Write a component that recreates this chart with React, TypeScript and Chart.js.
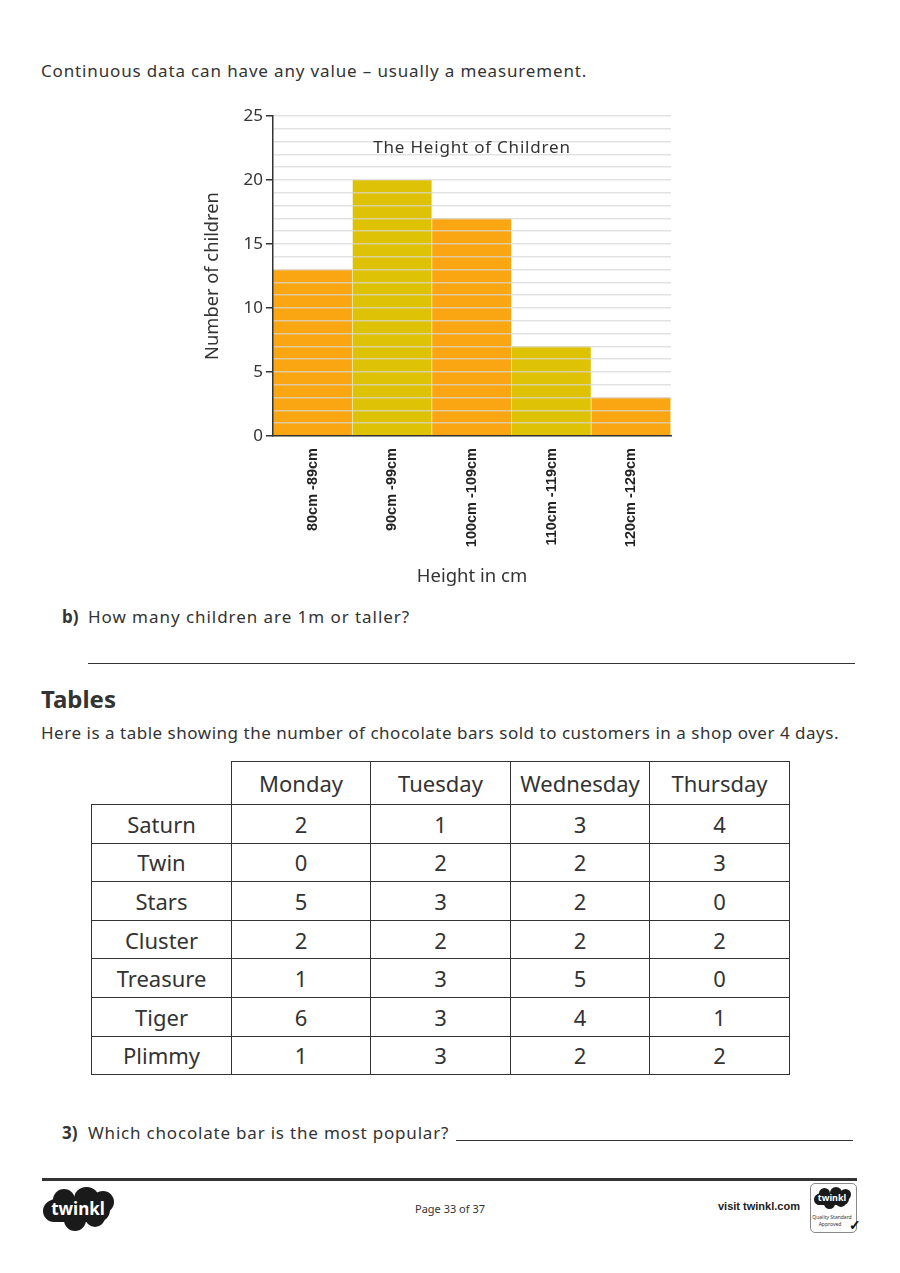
import React, { useEffect, useRef } from "react";
import { Chart, registerables } from "chart.js";

Chart.register(...registerables);

const categories = ["80cm -89cm", "90cm -99cm", "100cm -109cm", "110cm -119cm", "120cm -129cm"];
const counts = [13, 20, 17, 7, 3];
const barColors = ["#F9A612", "#DEC205", "#F9A612", "#DEC205", "#F9A612"];
const yMax = 25;
const chartTitle = "The Height of Children";
const xTitle = "Height in cm";
const yTitle = "Number of children";

const days = ["Monday", "Tuesday", "Wednesday", "Thursday"];
const bars = ["Saturn", "Twin", "Stars", "Cluster", "Treasure", "Tiger", "Plimmy"];
const saturn = [2, 1, 3, 4];
const twin = [0, 2, 2, 3];
const stars = [5, 3, 2, 0];
const cluster = [2, 2, 2, 2];
const treasure = [1, 3, 5, 0];
const tiger = [6, 3, 4, 1];
const plimmy = [1, 3, 2, 2];
const sales = [saturn, twin, stars, cluster, treasure, tiger, plimmy];

const FONT = "'Noto Sans', 'Open Sans', sans-serif";

function T(props: { x: number; y: number; size?: number; bold?: boolean; color?: string; center?: boolean; family?: string; ls?: number; children: React.ReactNode }) {
  const size = props.size ?? 17;
  const lh = Math.round(size * 1.3);
  return (
    <div
      style={{
        position: "absolute",
        left: props.center ? props.x - 300 : props.x,
        width: props.center ? 600 : undefined,
        textAlign: props.center ? "center" : "left",
        top: props.y - lh / 2,
        lineHeight: lh + "px",
        fontSize: size,
        fontWeight: props.bold ? 700 : 400,
        fontFamily: props.family ?? FONT,
        color: props.color ?? "#333",
        letterSpacing: (props.ls ?? 0) + "px",
        whiteSpace: "nowrap",
      }}
    >
      {props.children}
    </div>
  );
}

function HLine(props: { x1: number; x2: number; y: number; w?: number; color?: string }) {
  return (
    <div
      style={{
        position: "absolute",
        left: props.x1,
        top: props.y,
        width: props.x2 - props.x1,
        height: props.w ?? 1,
        background: props.color ?? "#333",
      }}
    />
  );
}

const titleInside = {
  id: "titleInside",
  afterDraw(chart: any) {
    const { ctx, chartArea, scales } = chart;
    const y = scales.y.getPixelForValue(22.5);
    ctx.save();
    ctx.font = `17px ${FONT}`;
    try {
      (ctx as any).letterSpacing = "0.8px";
    } catch (e) {}
    ctx.fillStyle = "#333";
    ctx.textAlign = "center";
    ctx.textBaseline = "middle";
    ctx.fillText(chartTitle, (chartArea.left + chartArea.right) / 2, y);
    ctx.restore();
  },
};

function HistChart() {
  const ref = useRef<HTMLCanvasElement>(null);
  useEffect(() => {
    if (!ref.current) return;
    const chart = new Chart(ref.current, {
      type: "bar",
      data: {
        labels: categories,
        datasets: [
          {
            data: counts,
            backgroundColor: barColors,
            borderColor: "rgba(255,235,170,0.55)",
            borderWidth: { left: 0, right: 1, top: 0, bottom: 0 },
            categoryPercentage: 1,
            barPercentage: 1,
          },
        ],
      },
      options: {
        animation: false,
        responsive: true,
        maintainAspectRatio: false,
        layout: { padding: { top: 16, right: 14, bottom: 12, left: 0 } },
        plugins: { legend: { display: false }, tooltip: { enabled: false }, title: { display: false } },
        scales: {
          x: {
            grid: { display: false },
            border: { display: true, color: "#333", width: 1.5, z: 2 },
            ticks: {
              minRotation: 90,
              maxRotation: 90,
              padding: 4,
              color: "#222",
              font: { family: "'Liberation Sans', Arial, sans-serif", size: 14.5, weight: "bold" },
            },
            title: {
              display: true,
              text: xTitle,
              color: "#333",
              font: { family: FONT, size: 18.5 },
              padding: { top: 0, bottom: 0 },
            },
            afterFit: (s: any) => {
              s.height = 152;
            },
          },
          y: {
            min: 0,
            max: yMax,
            grid: {
              z: 1,
              color: "rgba(215,215,215,0.72)",
              lineWidth: 1.5,
              drawTicks: true,
              tickLength: 7,
              tickColor: (c: any) => (c.tick && c.tick.value % 5 === 0 ? "#333" : "rgba(0,0,0,0)"),
            },
            border: { display: true, color: "#333", width: 1.5, z: 2 },
            ticks: {
              stepSize: 1,
              autoSkip: false,
              padding: 3,
              color: "#333",
              font: { family: FONT, size: 17 },
              callback: (v: any) => (Number(v) % 5 === 0 ? String(v) : ""),
            },
            title: {
              display: true,
              text: yTitle,
              color: "#333",
              font: { family: FONT, size: 18.3 },
              padding: { top: 7, bottom: 0 },
            },
            afterFit: (s: any) => {
              s.width = 78;
            },
          },
        },
      },
      plugins: [titleInside],
    } as any);
    return () => chart.destroy();
  }, []);
  return (
    <div style={{ position: "absolute", left: 195, top: 100, width: 490, height: 500 }}>
      <canvas ref={ref} />
    </div>
  );
}

const colW = [139, 138, 139, 138, 139];
const B = "1.5px solid #333";

function SalesTable() {
  const cell = (content: React.ReactNode, w: number, h: number, extra: React.CSSProperties = {}) => (
    <td
      style={{
        width: w,
        height: h,
        padding: 0,
        border: B,
        textAlign: "center",
        verticalAlign: "middle",
        fontSize: 22,
        fontFamily: FONT,
        color: "#333",
        ...extra,
      }}
    >
      {content}
    </td>
  );
  return (
    <table
      style={{
        position: "absolute",
        left: 91,
        top: 761,
        borderCollapse: "collapse",
        tableLayout: "fixed",
      }}
    >
      <tbody>
        <tr>
          {cell("", colW[0], 42, { borderTop: "none", borderLeft: "none" })}
          {days.map((d, i) => cell(d, colW[i + 1], 42))}
        </tr>
        {bars.map((b, r) => (
          <tr key={b}>
            {cell(b, colW[0], 37.6)}
            {sales[r].map((v, i) => cell(String(v), colW[i + 1], 37.6))}
          </tr>
        ))}
      </tbody>
    </table>
  );
}

function Cloud(props: { x: number; y: number; w: number; h: number; size: number }) {
  const { x, y, w, h, size } = props;
  const blob = (l: number, t: number, d: number) => (
    <div style={{ position: "absolute", left: l, top: t, width: d, height: d, background: "#1a1a1a", borderRadius: "50%" }} />
  );
  return (
    <div style={{ position: "absolute", left: x, top: y, width: w, height: h }}>
      <div style={{ position: "absolute", left: w * 0.05, top: h * 0.25, width: w * 0.9, height: h * 0.55, background: "#1a1a1a", borderRadius: h * 0.3 }} />
      {blob(w * 0.02, h * 0.3, h * 0.5)}
      {blob(w * 0.15, h * 0.05, h * 0.5)}
      {blob(w * 0.45, 0, h * 0.55)}
      {blob(w * 0.7, h * 0.1, h * 0.5)}
      {blob(w * 0.3, h * 0.5, h * 0.5)}
      {blob(w * 0.6, h * 0.45, h * 0.45)}
      <div
        style={{
          position: "absolute",
          left: 0,
          width: w,
          top: h * 0.5 - size * 0.65,
          lineHeight: size * 1.3 + "px",
          textAlign: "center",
          color: "#fff",
          fontWeight: 700,
          fontSize: size,
          fontFamily: "'Noto Sans', sans-serif",
        }}
      >
        twinkl
      </div>
    </div>
  );
}

export default function App() {
  return (
    <div style={{ fontFamily: FONT }}>
      <T x={41} y={71} ls={0.85}>Continuous data can have any value – usually a measurement.</T>
      <HistChart />
      <T x={62} y={617} bold>b)</T>
      <T x={88} y={617} ls={0.95}>How many children are 1m or taller?</T>
      <HLine x1={88} x2={855} y={663} />
      <T x={41} y={698} size={24} bold>Tables</T>
      <T x={41} y={733} ls={0.52}>Here is a table showing the number of chocolate bars sold to customers in a shop over 4 days.</T>
      <SalesTable />
      <T x={62} y={1133} bold>3)</T>
      <T x={88} y={1133} ls={0.8}>Which chocolate bar is the most popular?</T>
      <HLine x1={456} x2={853} y={1140} />
      <HLine x1={42} x2={857} y={1178} w={3} color="#333" />
      <Cloud x={42} y={1187} w={72} h={44} size={17} />
      <T x={450} y={1209} size={11} center>Page 33 of 37</T>
      <T x={718} y={1206} size={11} bold family="'Liberation Sans', Arial, sans-serif" color="#222">visit twinkl.com</T>
      <div style={{ position: "absolute", left: 810, top: 1183, width: 45, height: 48, border: "1px solid #888", borderRadius: 5 }} />
      <Cloud x={813} y={1187} w={38} h={22} size={9} />
      <T x={832} y={1217} size={5} center>Quality Standard</T>
      <T x={830} y={1224} size={5} center>Approved</T>
      <T x={849} y={1225} size={14} bold color="#111">✓</T>
    </div>
  );
}
